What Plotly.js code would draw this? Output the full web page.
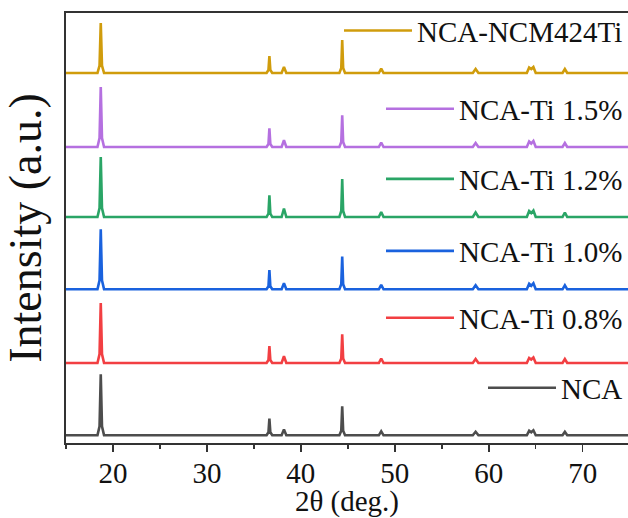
<!DOCTYPE html>
<html>
<head>
<meta charset="utf-8">
<script src="https://cdn.plot.ly/plotly-3.0.1.min.js"></script>
<style>html,body{margin:0;padding:0;background:#fff;}#chart{width:628px;height:518px;}</style>
</head>
<body>
<div id="chart"></div>
<script>
// 2θ positions (deg.) describing each diffraction peak (foot, shoulder, apex, shoulder, foot)
const twoTheta = [15,
  18.35, 18.57, 18.7, 18.83, 19.05,
  36.35, 36.55, 36.65, 36.75, 36.95,
  37.95, 38.2, 38.45,
  44.1, 44.3, 44.4, 44.5, 44.7,
  48.3, 48.55, 48.8,
  58.3, 58.6, 58.9,
  64.05, 64.3, 64.52, 64.75, 65.0,
  67.85, 68.1, 68.35,
  75];

// intensities (a.u.) at those positions, one array per sample
const intNCA      = [0, 0,9,61,9,0,     0,3,16.7,3,0,   0,5.7,0, 0,4.5,29,4.5,0,   0,4,0,   0,3.5,0, 0,4.5,3,5,0,   0,3.5,0, 0];
const intTi08     = [0, 0,9,60,9,0,     0,3,17,3,0,     0,6.7,0, 0,4.5,28.7,4.5,0, 0,4.5,0, 0,4,0,   0,5,3.5,5.5,0,   0,4,0,   0];
const intTi10     = [0, 0,9,60,9,0,     0,3,19.3,3,0,   0,6,0,   0,5,32.7,5,0,     0,4.5,0, 0,4,0,   0,5.5,3.5,6,0,   0,4,0,   0];
const intTi12     = [0, 0,9,60,9,0,     0,3.5,21.7,3.5,0, 0,8.5,0, 0,6,38,6,0,     0,5,0,   0,4.5,0, 0,6,4,6.5,0,     0,4.5,0, 0];
const intTi15     = [0, 0,9,60,9,0,     0,3,18.7,3,0,   0,6.7,0, 0,5,31.7,5,0,     0,4.5,0, 0,4,0,   0,5.5,3.5,6,0,   0,4,0,   0];
const intNCM424Ti = [0, 0,7.5,50,7.5,0, 0,3,17,3,0,     0,6,0,   0,5,33,5,0,       0,4.3,0, 0,4,0,   0,5.5,4,6,0,     0,4,0,   0];

// stacking offsets (a.u.)
const offsets = [7.7, 80, 153.7, 226, 296, 370];
const names = ['NCA', 'NCA-Ti 0.8%', 'NCA-Ti 1.0%', 'NCA-Ti 1.2%', 'NCA-Ti 1.5%', 'NCA-NCM424Ti'];
const series = [intNCA, intTi08, intTi10, intTi12, intTi15, intNCM424Ti];
const colors = ['#4d4d4d', '#f23f42', '#1a62de', '#2aa566', '#b570e0', '#d09c0c'];
const legendY = [0.128, 0.291, 0.4465, 0.614, 0.777, 0.959];

const font = '"Liberation Serif", "Times New Roman", Times, serif';
const traces = series.map((s, i) => ({
  x: twoTheta,
  y: s.map(v => v + offsets[i]),
  type: 'scatter',
  mode: 'lines',
  name: names[i],
  line: {color: colors[i], width: 2.6},
  legend: i === 0 ? 'legend' : 'legend' + (i + 1)
}));

const layout = {
  width: 628, height: 518,
  margin: {l: 66, r: 0, t: 13, b: 75, autoexpand: false},
  paper_bgcolor: '#fff', plot_bgcolor: '#fff',
  font: {family: font, size: 29, color: '#111'},
  showlegend: true,
  xaxis: {
    range: [15, 74.82], showgrid: false, zeroline: false, automargin: true,
    showline: true, linecolor: '#333', linewidth: 2, mirror: true,
    ticks: 'outside', ticklen: 7, tickwidth: 1.5, tickcolor: '#333',
    tickvals: [20, 30, 40, 50, 60, 70], ticktext: ['20', '30', '40', '50', '60', '70'],
    minor: {ticks: 'outside', ticklen: 4, tickwidth: 1.5, tickcolor: '#333', dtick: 5, tick0: 15},
    ticklabelstandoff: -4,
    tickfont: {family: font, size: 29, color: '#111'},
    title: {text: '2θ (deg.)', font: {family: font, size: 29, color: '#111'}, standoff: 20}
  },
  yaxis: {
    range: [0, 430], showgrid: false, zeroline: false,
    showline: true, linecolor: '#333', linewidth: 2, mirror: false,
    ticks: '', showticklabels: false,
    title: {text: 'Intensity (a.u.)', font: {family: font, size: 46, color: '#111'}}
  }
};
names.forEach((n, i) => {
  const key = i === 0 ? 'legend' : 'legend' + (i + 1);
  layout[key] = {
    x: 1.0, xanchor: 'right', y: legendY[i], yanchor: 'middle',
    bgcolor: 'rgba(0,0,0,0)', borderwidth: 0,
    font: {family: font, size: 29, color: '#111'},
    itemwidth: 68
  };
});

Plotly.newPlot('chart', traces, layout, {displayModeBar: false, staticPlot: true});
</script>
</body>
</html>
